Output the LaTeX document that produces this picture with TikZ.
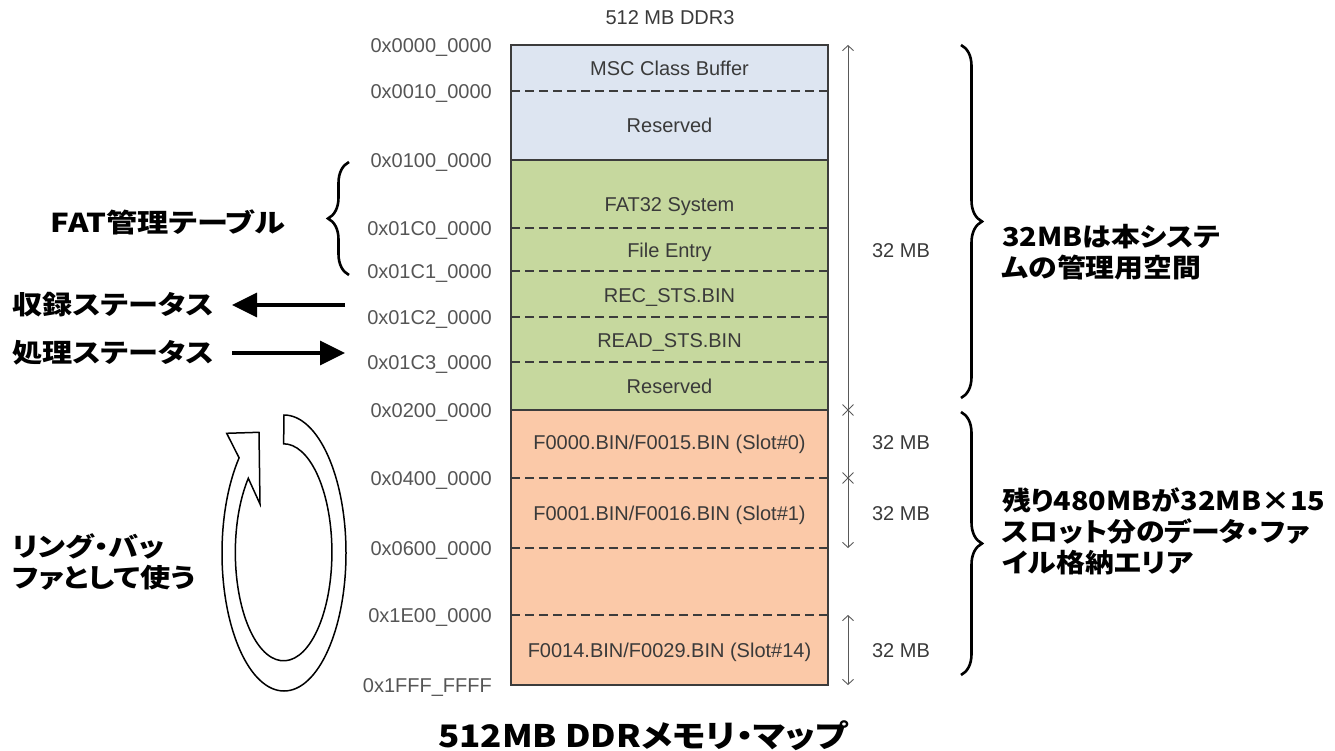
\documentclass[tikz,border=0pt]{standalone}
\usepackage{fontspec}
\setmainfont{Liberation Sans}
\newfontfamily\jpfont{Noto Sans CJK JP}[RawFeature=+palt]
\usetikzlibrary{arrows.meta,decorations.pathreplacing,shapes.misc}
\definecolor{memblue}{HTML}{DDE5F1}
\definecolor{memgreen}{HTML}{C6D89E}
\definecolor{memorange}{HTML}{FBC9A8}
\definecolor{addrgray}{HTML}{555555}
\definecolor{celltext}{HTML}{3A3A3A}
\definecolor{framegray}{HTML}{3C3C3C}
\newcommand{\jwide}[1]{\scalebox{1.16}[1]{#1}}
\newcommand{\jwider}[1]{\scalebox{1.11}[1]{#1}}
\begin{document}
\begin{tikzpicture}[x=1pt,y=1pt,
  addr/.style={anchor=base east, yshift=-7.2pt, inner sep=0, text=addrgray, font=\fontsize{20}{20}\selectfont},
  cell/.style={anchor=base, yshift=-7.2pt, inner sep=0, text=celltext, font=\fontsize{20}{20}\selectfont},
  mb/.style={anchor=base, yshift=-7.2pt, inner sep=0, text=celltext, font=\fontsize{20}{20}\selectfont},
  divider/.style={draw=framegray, dash pattern=on 9pt off 5pt, line width=1.3pt},
  jplabel/.style={inner sep=0, font=\jpfont\bfseries\fontsize{26}{31}\selectfont, align=left},
  bigarrow/.style={line width=3.5pt, -{Triangle[length=25pt,width=24pt]}},
  dimline/.style={draw=black!65, line width=0.9pt, >={Straight Barb[length=5pt,width=11pt]}, <->},
  xmark/.style={cross out, draw=black!65, line width=0.9pt, minimum size=10pt, inner sep=0},
  bigbrace/.style={decorate, decoration={brace, amplitude=21pt}, line width=2.6pt},
]
\useasboundingbox (0,0) rectangle (1335,-751);

% ---- memory block fills ----
\fill[memblue]   (511,-45)  rectangle (828,-160);
\fill[memgreen]  (511,-160) rectangle (828,-410);
\fill[memorange] (511,-410) rectangle (828,-685);
% dashed dividers
\foreach \yy in {91,228,271,317,362,478,548,615}
  \draw[divider] (511,-\yy) -- (828,-\yy);
% solid dividers and frame
\draw[framegray, line width=1.3pt] (511,-160) -- (828,-160);
\draw[framegray, line width=1.3pt] (511,-410) -- (828,-410);
\draw[framegray, line width=1.3pt] (511,-45) rectangle (828,-685);

% ---- title ----
\node[cell] (ddr) at (670,-17) {512 MB DDR3};

% ---- cell labels ----
\node[cell] (msc)  at (669.5,-68)  {MSC Class Buffer};
\node[cell] (res1) at (669.5,-125) {Reserved};
\node[cell] (fat)  at (669.5,-204) {FAT32 System};
\node[cell] (ent)  at (669.5,-250) {File Entry};
\node[cell] (rec)  at (669.5,-295) {REC\_STS.BIN};
\node[cell] (read) at (669.5,-340) {READ\_STS.BIN};
\node[cell] (res2) at (669.5,-386) {Reserved};
\node[cell] (s0)   at (669.5,-442) {F0000.BIN/F0015.BIN (Slot\#0)};
\node[cell] (s1)   at (669.5,-513) {F0001.BIN/F0016.BIN (Slot\#1)};
\node[cell] (s14)  at (669.5,-650) {F0014.BIN/F0029.BIN (Slot\#14)};

% ---- addresses ----
\node[addr] (a0)  at (492,-45)  {0x0000\_0000};
\node[addr] (a1)  at (492,-91)  {0x0010\_0000};
\node[addr] (a2)  at (492,-160) {0x0100\_0000};
\node[addr] (a3)  at (492,-228) {0x01C0\_0000};
\node[addr] (a4)  at (492,-271) {0x01C1\_0000};
\node[addr] (a5)  at (492,-317) {0x01C2\_0000};
\node[addr] (a6)  at (492,-362) {0x01C3\_0000};
\node[addr] (a7)  at (492,-410) {0x0200\_0000};
\node[addr] (a8)  at (492,-478) {0x0400\_0000};
\node[addr] (a9)  at (492,-548) {0x0600\_0000};
\node[addr] (a10) at (492,-615) {0x1E00\_0000};
\node[addr] (a11) at (492,-685) {0x1FFF\_FFFF};

% ---- dimension lines ----
\coordinate (dtop) at (848,-45);
\coordinate (dbot) at (848,-548);
\coordinate (etop) at (848,-615);
\coordinate (ebot) at (848,-685);
\draw[dimline] (dtop) -- (dbot);
\draw[dimline] (etop) -- (ebot);
\node[xmark] (x1) at (848,-410) {};
\node[xmark] (x2) at (848,-478) {};
\node[mb] (mb1) at (901,-250) {32 MB};
\node[mb] (mb2) at (901,-442) {32 MB};
\node[mb] (mb3) at (901,-513) {32 MB};
\node[mb] (mb4) at (901,-650) {32 MB};

% ---- right braces and texts ----
\coordinate (b1t) at (961,-45);
\coordinate (b1b) at (961,-398);
\coordinate (b2t) at (961,-412);
\coordinate (b2b) at (961,-675);
\draw[bigbrace] (b1t) -- (b1b);
\draw[bigbrace] (b2t) -- (b2b);
\node[jplabel, anchor=west] (sys) at (1002,-252) {\jwider{32MBは本システ}\\\jwider{ムの管理用空間}};
\node[jplabel, anchor=west] (data) at (1002,-531) {\jwider{残り480MBが32MB×15}\\\jwider{スロット分のデータ・ファ}\\\jwider{イル格納エリア}};

% ---- left brace ----
\coordinate (lbt) at (349,-162);
\coordinate (lbb) at (349,-275);
\draw[bigbrace] (lbb) -- (lbt);
\node[jplabel, anchor=center] (fatlbl) at (168,-222) {\scalebox{1.2}[1]{FAT管理テーブル}};

% ---- status arrows ----
\node[jplabel, anchor=west] (recst) at (12,-305) {\jwide{収録ステータス}};
\node[jplabel, anchor=west] (procst) at (12,-353) {\jwide{処理ステータス}};
\coordinate (recsrc) at (345,-305);
\coordinate (rectip) at (232,-305);
\coordinate (procsrc) at (232,-353);
\coordinate (procdst) at (345,-353);
\draw[bigarrow] (recsrc) -- (rectip);
\draw[bigarrow] (procsrc) -- (procdst);

% ---- ring arrow ----
\draw[line width=1.5pt, fill=white, line join=miter]
  (284,-415) arc[start angle=90, end angle=-223.6, x radius=62, y radius=138]
  -- (226.7,-433.3) -- (259,-432.3) -- (260,-504) -- (248.3,-478.3)
  arc[start angle=137, end angle=450, x radius=48.3, y radius=108.5]
  -- cycle;
\node[jplabel, anchor=west] (ring) at (12,-562) {\jwide{リング・バッ}\\\jwide{ファとして使う}};

% ---- bottom caption ----
\node[inner sep=0, font=\jpfont\bfseries\fontsize{31}{31}\selectfont] (cap) at (643,-736) {\scalebox{1.13}[1]{512MB DDRメモリ・マップ}};
\end{tikzpicture}
\end{document}
